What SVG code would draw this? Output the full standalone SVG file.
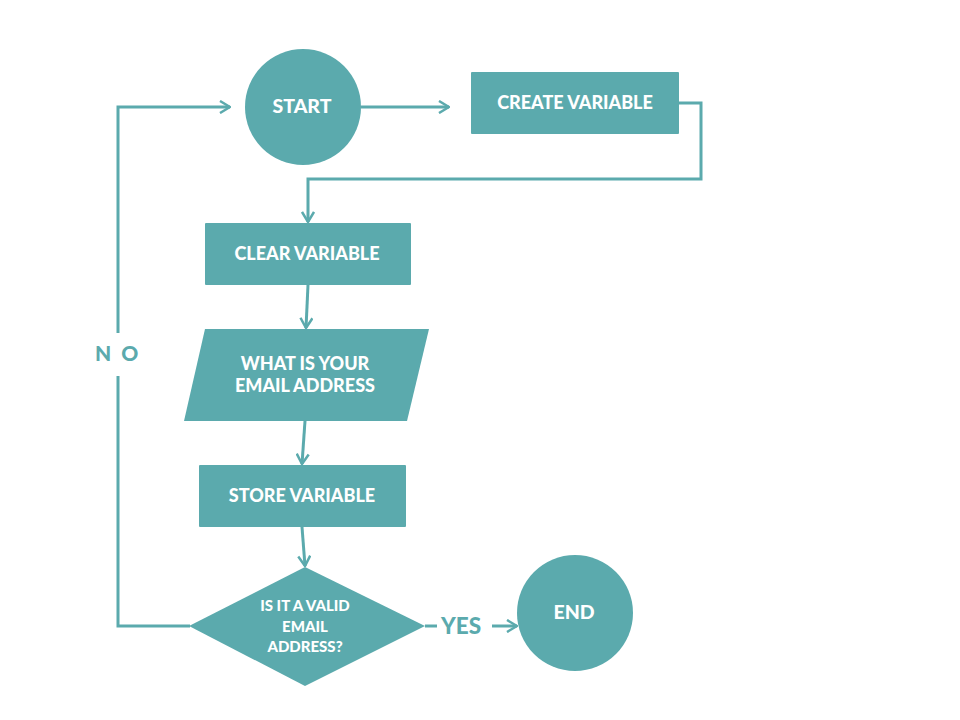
<svg xmlns="http://www.w3.org/2000/svg" width="960" height="720" viewBox="0 0 960 720">
<style>
.n{fill:#5BAAAD}
.t{fill:#fff;font-family:Lato,"Liberation Sans",sans-serif;font-weight:900;text-anchor:middle}
.c{fill:none;stroke:#5BAAAD;stroke-width:3}
.l{fill:#5BAAAD;font-family:Lato,"Liberation Sans",sans-serif;font-weight:900}
</style>
<defs>
<marker id="a" viewBox="0 0 12 14" refX="11" refY="7" markerWidth="12" markerHeight="14" markerUnits="userSpaceOnUse" orient="auto">
<path d="M1,1 L11,7 L1,13" fill="none" stroke="#5BAAAD" stroke-width="2.5"/>
</marker>
</defs>
<rect width="960" height="720" fill="#fff"/>
<g id="connectors">
<path class="c" d="M361,107 H449" marker-end="url(#a)"/>
<path class="c" d="M679,103 H701 V179 H308 V222" marker-end="url(#a)"/>
<path class="c" d="M308,285 L306,328" marker-end="url(#a)"/>
<path class="c" d="M305,421 L302,464" marker-end="url(#a)"/>
<path class="c" d="M302,527 L305,566" marker-end="url(#a)"/>
<path class="c" d="M190,626 H118 V376"/>
<path class="c" d="M118,333 V107 H230" marker-end="url(#a)"/>
<path class="c" d="M425,626 H437"/>
<path class="c" d="M492,626 H517" marker-end="url(#a)"/>
<text class="l" x="95" y="361" font-size="21" letter-spacing="10">NO</text>
<text class="l" x="441" y="634" font-size="22.5">YES</text>
</g>
<g id="start">
<circle class="n" cx="303" cy="107" r="58"/>
<text class="t" x="302" y="113" font-size="19.5">START</text>
</g>
<g id="create">
<rect class="n" x="471" y="72" width="208" height="62" rx="1"/>
<text class="t" x="575" y="109" font-size="18">CREATE VARIABLE</text>
</g>
<g id="clear">
<rect class="n" x="205" y="223" width="206" height="62" rx="1"/>
<text class="t" x="307" y="260" font-size="18">CLEAR VARIABLE</text>
</g>
<g id="input">
<polygon class="n" points="205,329 429,329 407,421 184,421"/>
<text class="t" x="305" y="370" font-size="18">WHAT IS YOUR</text>
<text class="t" x="305" y="392" font-size="18">EMAIL ADDRESS</text>
</g>
<g id="store">
<rect class="n" x="199" y="465" width="207" height="62" rx="1"/>
<text class="t" x="302" y="502" font-size="18">STORE VARIABLE</text>
</g>
<g id="decision">
<polygon class="n" points="305,567 425,626 305,686 189,626"/>
<text class="t" x="305" y="611" font-size="15">IS IT A VALID</text>
<text class="t" x="305" y="632" font-size="15">EMAIL</text>
<text class="t" x="305" y="652" font-size="15">ADDRESS?</text>
</g>
<g id="end">
<circle class="n" cx="575" cy="613" r="58"/>
<text class="t" x="574" y="619" font-size="19.5">END</text>
</g>
</svg>
